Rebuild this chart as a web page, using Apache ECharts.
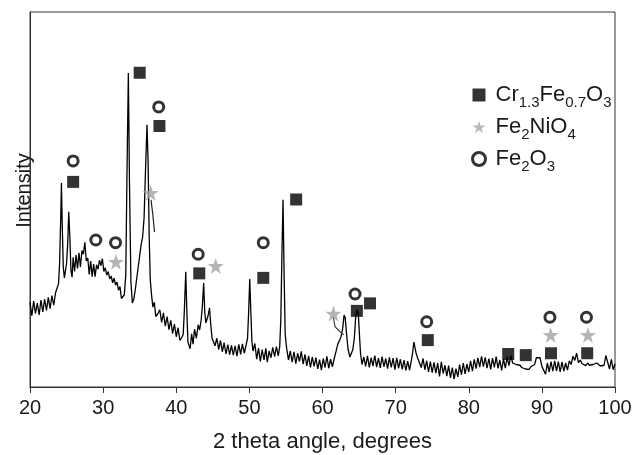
<!DOCTYPE html>
<html><head><meta charset="utf-8">
<script src="https://cdn.jsdelivr.net/npm/echarts@6/dist/echarts.min.js"></script>
<style>html,body{margin:0;padding:0;background:#fff}#c{width:632px;height:455px}</style>
</head><body><div id="c"></div>
<script>
// XRD trace: [2theta, intensity (arbitrary units 0-100)]
const trace = [
[20.0,22.6],[20.25,19.0],[20.5,22.9],[20.75,19.6],[21.0,22.4],[21.25,19.2],[21.5,23.2],[21.75,20.0],[22.0,23.4],[22.25,20.4],
[22.5,23.9],[22.75,20.9],[23.0,24.4],[23.25,21.8],[23.5,25.2],[23.75,24.9],[23.9,27.5],[24.05,33],[24.2,45],[24.3,54.4],
[24.4,44],[24.55,32],[24.7,29.1],[24.85,31],[25.0,33],[25.15,38],[25.3,46.7],[25.45,40],[25.6,31],[25.75,29.3],
[25.9,34.6],[26.1,30.8],[26.3,35.2],[26.5,31.6],[26.7,35.8],[26.9,32.0],[27.1,36.4],[27.3,35.4],[27.5,38.6],[27.7,33.6],
[27.9,34.4],[28.1,30.0],[28.3,33.6],[28.5,29.4],[28.7,32.8],[28.9,29.4],[29.1,32.6],[29.3,31.4],[29.5,33.8],[29.7,32.4],
[29.9,34.2],[30.1,30.8],[30.3,31.8],[30.5,29.8],[30.7,30.8],[30.9,28.8],[31.1,29.6],[31.3,27.8],[31.5,29.0],[31.7,27.2],
[31.9,28.0],[32.1,25.8],[32.3,26.8],[32.5,23.6],[32.7,23.8],[32.9,24.6],[33.1,30],[33.25,55],[33.45,83.7],[33.6,55],
[33.8,28],[34.0,22.4],[34.2,23.5],[34.4,26],[34.6,29],[34.8,32],[35.0,35],[35.2,38],[35.4,40],[35.6,45],
[35.8,58],[36.0,69.9],[36.15,60],[36.3,40],[36.45,28.5],[36.6,25],[36.8,21.3],[37.0,22.6],[37.2,18.8],[37.5,19.6],
[37.75,20.6],[38.0,17.2],[38.25,19.8],[38.5,16.2],[38.75,18.8],[39.0,15.3],[39.25,17.8],[39.5,14.2],[39.75,16.8],[40.0,13.4],
[40.25,15.8],[40.5,12.4],[40.75,13.2],[40.95,14],[41.1,20],[41.3,30.7],[41.45,20],[41.6,12],[41.9,10.2],[42.1,14.2],
[42.3,11.4],[42.5,15.4],[42.75,13.0],[43.0,16.6],[43.2,15.2],[43.4,17.8],[43.55,21],[43.75,27.7],[43.9,20],[44.05,17.1],
[44.2,17.5],[44.35,19],[44.55,21.1],[44.7,17],[44.9,13],[45.1,12.8],[45.3,11.0],[45.55,13.0],[45.8,10.0],[46.05,12.4],
[46.3,9.4],[46.55,11.8],[46.8,8.8],[47.05,11.3],[47.3,8.6],[47.55,11.1],[47.8,8.5],[48.05,11.0],[48.3,8.2],[48.55,11.4],
[48.8,8.7],[49.05,11.5],[49.3,9.0],[49.55,11.2],[49.75,13],[49.9,20],[50.05,28.8],[50.2,20],[50.35,12],[50.5,9.6],
[50.75,11.6],[51.0,7.4],[51.25,10.4],[51.5,6.8],[51.75,10.0],[52.0,7.2],[52.25,10.3],[52.45,6.6],[52.7,9.6],[52.95,7.8],
[53.2,10.6],[53.45,8.1],[53.7,10.8],[53.95,8.3],[54.15,10.8],[54.3,18],[54.45,35],[54.6,49.9],[54.75,30],[54.9,14],
[55.1,10.3],[55.35,7.2],[55.6,9.6],[55.85,6.6],[56.1,9.4],[56.35,6.2],[56.6,9.0],[56.85,6.8],[57.1,9.5],[57.35,6.1],
[57.6,8.7],[57.85,5.6],[58.1,8.3],[58.35,5.2],[58.6,8.0],[58.85,5.5],[59.1,7.8],[59.35,4.8],[59.6,7.3],[59.85,4.5],
[60.1,7.6],[60.35,5.2],[60.6,8.2],[60.85,5.0],[61.1,7.4],[61.35,5.4],[61.6,7.6],[61.85,9.5],[62.1,11.5],[62.35,12.5],
[62.55,13.5],[62.75,15.5],[62.95,19.2],[63.1,18.5],[63.3,14],[63.5,10],[63.75,8.0],[63.95,7.8],[64.15,10],[64.35,13],
[64.55,19],[64.75,20.5],[64.9,19.5],[65.05,14],[65.2,9],[65.4,6.0],[65.65,8.0],[65.9,5.5],[66.15,8.3],[66.4,5.2],
[66.65,7.8],[66.9,5.6],[67.15,8.4],[67.4,5.3],[67.65,7.7],[67.9,5.1],[68.15,8.1],[68.4,5.4],[68.65,7.6],[68.9,4.9],
[69.15,7.9],[69.4,5.2],[69.65,7.7],[69.9,4.6],[70.15,7.8],[70.4,5.0],[70.65,7.4],[70.9,4.7],[71.15,7.2],[71.4,4.4],
[71.65,6.9],[71.9,4.5],[72.1,6.5],[72.3,8.8],[72.5,12.0],[72.65,11.5],[72.8,9.0],[73.0,7.8],[73.25,8.0],[73.5,5.2],
[73.75,7.6],[74.0,4.6],[74.25,7.0],[74.5,4.0],[74.75,6.8],[75.0,3.8],[75.25,6.6],[75.5,3.7],[75.75,6.4],[76.0,2.8],
[76.25,6.7],[76.5,3.6],[76.75,5.8],[77.0,2.9],[77.25,5.7],[77.5,2.4],[77.75,5.2],[78.0,2.1],[78.25,4.9],[78.5,2.7],
[78.75,6.0],[79.0,3.2],[79.25,6.4],[79.5,3.5],[79.75,6.1],[80.0,4.0],[80.25,7.0],[80.5,4.2],[80.75,7.4],[81.0,4.9],
[81.25,7.8],[81.5,5.3],[81.75,8.2],[82.0,5.4],[82.25,7.9],[82.5,5.0],[82.75,7.6],[83.0,4.7],[83.25,7.7],[83.5,5.2],
[83.75,8.1],[84.0,5.0],[84.25,7.2],[84.5,4.4],[84.75,7.5],[85.0,5.0],[85.25,8.0],[85.5,5.7],[85.75,8.4],[86.0,6.4],
[86.25,6.8],[86.5,6.0],[86.75,5.6],[87.0,5.8],[87.25,5.2],[87.5,5.2],[87.75,4.8],[88.0,4.8],[88.25,4.7],[88.5,5.4],
[88.75,5.4],[89.0,6.0],[89.25,7.8],[89.5,8.2],[89.75,7.8],[90.0,5.5],[90.25,5.4],[90.5,3.4],[90.75,6.4],[91.0,4.0],
[91.25,6.8],[91.5,4.2],[91.75,7.0],[92.0,4.3],[92.25,6.8],[92.5,4.0],[92.75,6.7],[93.0,4.2],[93.25,6.4],[93.5,4.5],
[93.75,7.0],[94.0,6.0],[94.25,8.2],[94.5,7.1],[94.75,9.0],[95.0,6.5],[95.25,7.2],[95.5,6.2],[95.75,6.6],[96.0,5.7],
[96.25,6.4],[96.5,5.8],[96.75,5.6],[97.0,6.0],[97.25,6.0],[97.5,6.4],[97.75,5.9],[98.0,5.6],[98.25,5.4],[98.5,5.8],
[98.75,8.4],[99.0,8.6],[99.25,4.8],[99.5,7.4],[99.75,4.6],[100.0,6.2]
];
// Phase markers: [2theta, marker height]
const crFeO = [[25.9,54.7],[35.0,83.8],[37.7,69.6],[43.15,30.3],[51.9,29.1],[56.4,50],[64.7,20.3],[66.5,22.3],[74.4,12.5],[85.4,8.8],[87.8,8.5],[91.25,9.0],[96.2,9.0]];
const fe2nio4 = [[31.75,33.4],[36.5,51.8],[45.4,32.3],[61.5,19.6],[91.2,13.9],[96.3,13.9]];
const fe2o3 = [[25.9,60.3],[29.0,39.2],[31.7,38.5],[37.6,74.7],[43.0,35.4],[51.9,38.5],[64.45,24.8],[74.25,17.4],[91.1,18.6],[96.1,18.6]];
// annotation pointers
const arrow1 = [[36.55,49.9],[36.8,45.9],[37.03,41.3]];
const arrow2 = [[61.48,18.75],[61.71,16.1],[62.39,14.75],[62.94,13.9]];
const xTicks = [20,30,40,50,60,70,80,90,100];

const STAR = 'path://M50,0 L61.8,35.3 L98,35.3 L68.8,57 L79.8,92 L50,70.5 L20.2,92 L31.2,57 L2,35.3 L38.2,35.3 Z';
const FONT = '"Liberation Sans", Arial, sans-serif';
const names = {
  'Cr1.3Fe0.7O3': '{g|}{m|Cr}{s|1.3}{m|Fe}{s|0.7}{m|O}{s|3}',
  'Fe2NiO4': '{g|}{m|Fe}{s|2}{m|NiO}{s|4}',
  'Fe2O3': '{g|}{m|Fe}{s|2}{m|O}{s|3}'
};
const TXT = '#1a1a1a';
const chart = echarts.init(document.getElementById('c'), null, {renderer:'canvas'});
chart.setOption({
  animation:false,
  backgroundColor:'#fff',
  textStyle:{fontFamily:FONT},
  grid:{left:30,right:17,top:12,bottom:68,containLabel:false,outerBoundsMode:'none',
        show:true,borderColor:'#333',borderWidth:1,backgroundColor:'transparent'},
  legend:{
    orient:'vertical', left:466, top:72, itemGap:-4, itemWidth:13, itemHeight:13,
    data:[
      {name:'Cr1.3Fe0.7O3',icon:'rect',itemStyle:{color:'#000'}},
      {name:'Fe2NiO4',icon:STAR,itemStyle:{color:'#a8a8a8'}},
      {name:'Fe2O3',icon:'circle',itemStyle:{color:'#fff',borderColor:'#000',borderWidth:3}}
    ],
    formatter:n=>names[n],
    textStyle:{fontFamily:FONT,color:TXT,
      rich:{g:{width:5,lineHeight:22,padding:[7,0,7,0]},
            m:{fontSize:22,fontFamily:FONT,color:TXT,lineHeight:22,padding:[7,0,7,0]},
            s:{fontSize:15,fontFamily:FONT,color:TXT,lineHeight:15,padding:[18,0,3,0]}}}
  },
  xAxis:{type:'value',min:20,max:100,interval:10,
    name:'2 theta angle, degrees',nameLocation:'middle',nameGap:44,
    nameTextStyle:{fontSize:22,color:TXT,fontFamily:FONT},
    axisLine:{show:true,lineStyle:{color:'#333',width:1}},
    axisTick:{show:true,length:6,lineStyle:{color:'#333'}},
    axisLabel:{fontSize:20,color:TXT,margin:11,fontFamily:FONT,formatter:v=>xTicks.includes(v)?String(v):''},
    splitLine:{show:false}},
  yAxis:{type:'value',min:0,max:100,
    name:'Intensity',nameLocation:'middle',nameGap:-4,
    nameTextStyle:{fontSize:20,color:TXT,fontFamily:FONT,padding:[0,0,0,18]},
    axisLine:{show:true,lineStyle:{color:'#333',width:1}},
    axisTick:{show:false},axisLabel:{show:false},splitLine:{show:false}},
  series:[
    {name:'trace',type:'line',data:trace,showSymbol:false,symbol:'none',
     lineStyle:{color:'#000',width:1.3},z:2},
    {name:'arrow1',type:'lines',coordinateSystem:'cartesian2d',polyline:true,
     symbol:['none','arrow'],symbolSize:7,
     data:[{coords:arrow1}],lineStyle:{color:'#222',width:1.2,opacity:1},z:3},
    {name:'arrow2',type:'lines',coordinateSystem:'cartesian2d',polyline:true,
     symbol:['none','none'],
     data:[{coords:arrow2}],lineStyle:{color:'#444',width:1.2,opacity:1},z:3},
    {name:'Cr1.3Fe0.7O3',type:'scatter',data:crFeO,symbol:'rect',symbolSize:12,
     itemStyle:{color:'#000'},z:4},
    {name:'Fe2NiO4',type:'scatter',data:fe2nio4,symbol:STAR,symbolSize:16,
     itemStyle:{color:'#a3a3a3'},z:4},
    {name:'Fe2O3',type:'scatter',data:fe2o3,symbol:'circle',symbolSize:10,
     itemStyle:{color:'#fff',borderColor:'#000',borderWidth:3},z:4}
  ]
});
</script></body></html>
